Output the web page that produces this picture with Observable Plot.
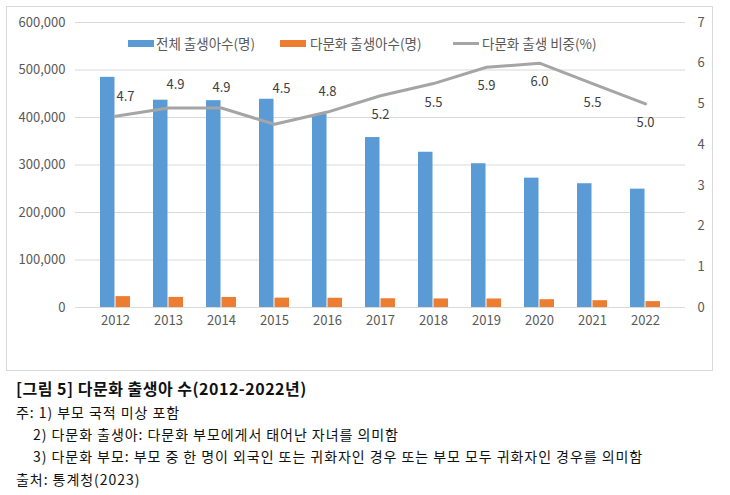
<!DOCTYPE html>
<html>
<head>
<meta charset="utf-8">
<script src="https://cdn.jsdelivr.net/npm/d3@7"></script>
<script src="https://cdn.jsdelivr.net/npm/@observablehq/plot@0.6"></script>
<style>
  html, body { margin: 0; padding: 0; background: #fff; }
  #wrap { position: relative; width: 730px; height: 495px; font-family: "Noto Sans CJK KR", "Noto Sans", sans-serif; }
  #box { position: absolute; left: 6px; top: 6px; width: 707px; height: 365px; box-sizing: border-box; border: 1px solid #d9d9d9; }
  #chart { position: absolute; left: 0; top: 0; }
  .leg { position: absolute; top: 34px; font-size: 13.5px; color: #595959; line-height: 18px; white-space: nowrap; }
  .sw { position: absolute; }
  .cap { position: absolute; left: 16px; font-size: 14px; letter-spacing: 0.95px; color: #111; white-space: nowrap; line-height: 22px; }
  .title { font-weight: bold; font-size: 16px; letter-spacing: 0.5px; }
</style>
</head>
<body>
<div id="wrap">
  <div id="box"></div>
  <div id="chart"></div>
  <div id="legend"></div>
  <div class="cap title" style="top:377px">[그림 5] 다문화 출생아 수(2012-2022년)</div>
  <div class="cap" style="top:401px">주: 1) 부모 국적 미상 포함</div>
  <div class="cap" style="top:423px; left:33px">2) 다문화 출생아: 다문화 부모에게서 태어난 자녀를 의미함</div>
  <div class="cap" style="top:445px; left:33px">3) 다문화 부모: 부모 중 한 명이 외국인 또는 귀화자인 경우 또는 부모 모두 귀화자인 경우를 의미함</div>
  <div class="cap" style="top:468px">출처: 통계청(2023)</div>
</div>
<script>
const years = [2012, 2013, 2014, 2015, 2016, 2017, 2018, 2019, 2020, 2021, 2022];
const totalBirths = [484550, 436455, 435435, 438420, 406243, 357771, 326822, 302676, 272337, 260562, 249186];
const multiBirths = [22908, 21290, 21174, 19729, 19431, 18440, 18079, 17939, 16421, 14322, 12406];
const multiShare = [4.7, 4.9, 4.9, 4.5, 4.8, 5.2, 5.5, 5.9, 6.0, 5.5, 5.0];
const leftTicks = [0, 100000, 200000, 300000, 400000, 500000, 600000];
const rightTicks = [0, 1, 2, 3, 4, 5, 6, 7];
const seriesNames = ["전체 출생아수(명)", "다문화 출생아수(명)", "다문화 출생 비중(%)"];
const colors = ["#5b9bd5", "#ed7d31", "#a5a5a5"];

const data = years.map((year, i) => ({year, total: totalBirths[i], multi: multiBirths[i], share: multiShare[i]}));
const yMax = leftTicks[leftTicks.length - 1];
const pMax = rightTicks[rightTicks.length - 1];
const toY = d3.scaleLinear([0, pMax], [0, yMax]);
const shareY = d => toY(d.share);
const fmt1 = d3.format(".1f");

const textOpts = {x: "year", y: shareY, text: d => fmt1(d.share), fill: "#404040", fontSize: 13};

const chart = Plot.plot({
  width: 730,
  height: 372,
  marginLeft: 75,
  marginRight: 45,
  marginTop: 22,
  marginBottom: 65,
  style: {fontFamily: "'Noto Sans CJK KR', 'Noto Sans', sans-serif", fontSize: "13px", color: "#595959", background: "transparent"},
  x: {type: "band", domain: years, padding: 0.44, label: null},
  y: {domain: [0, yMax], label: null},
  marks: [
    Plot.gridY(leftTicks, {stroke: "#d9d9d9", strokeOpacity: 1}),
    Plot.barY(data, {x: "year", y: "total", fill: colors[0], insetLeft: 0, insetRight: 15.5}),
    Plot.barY(data, {x: "year", y: "multi", fill: colors[1], insetLeft: 15.5, insetRight: 0}),
    Plot.line(data, {x: "year", y: shareY, stroke: colors[2], strokeWidth: 3}),
    Plot.text(data, {...textOpts, filter: d => d.year === 2012, dx: 10, dy: -19}),
    Plot.text(data, {...textOpts, filter: d => d.year === 2013, dx: 7, dy: -23}),
    Plot.text(data, {...textOpts, filter: d => d.year === 2014 || d.year === 2016, dy: -20}),
    Plot.text(data, {...textOpts, filter: d => d.year === 2015, dx: 7, dy: -35}),
    Plot.text(data, {...textOpts, filter: d => d.year >= 2017, dy: 19}),
    Plot.axisY(leftTicks, {anchor: "left", tickSize: 0, tickPadding: 10, tickFormat: d3.format(","), label: null, fill: "#595959"}),
    Plot.axisY(rightTicks.map(v => toY(v)), {anchor: "right", tickSize: 0, tickPadding: 12, tickFormat: d => String(Math.round(toY.invert(d))), label: null, fill: "#595959"}),
    Plot.axisX({tickSize: 0, tickPadding: 8, label: null, tickFormat: d => String(d), fill: "#595959"})
  ]
});
document.getElementById("chart").append(chart);

// legend
const legend = document.getElementById("legend");
const legPos = [
  {sw: 128, tx: 156, h: 7, top: 40},
  {sw: 280, tx: 310, h: 7, top: 40},
  {sw: 453, tx: 482, h: 3, top: 42}
];
seriesNames.forEach((name, i) => {
  const p = legPos[i];
  const sw = document.createElement("div");
  sw.className = "sw";
  sw.style.cssText = `left:${p.sw}px;top:${p.top}px;width:26px;height:${p.h}px;background:${colors[i]}`;
  legend.append(sw);
  const t = document.createElement("div");
  t.className = "leg";
  t.style.left = p.tx + "px";
  t.textContent = name;
  legend.append(t);
});
</script>
</body>
</html>
